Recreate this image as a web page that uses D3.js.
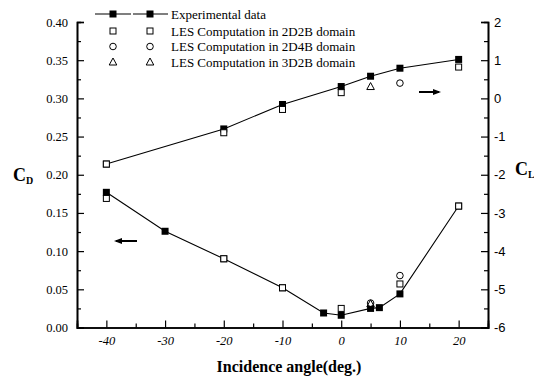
<!DOCTYPE html>
<html><head><meta charset="utf-8">
<script src="https://cdn.jsdelivr.net/npm/d3@7/dist/d3.min.js"></script>
<style>body{margin:0;background:#fff}svg{display:block}</style>
</head><body><svg id="c" width="534" height="378"></svg>
<script>
// Drag coefficient (left axis)
const expAngles = [-40, -30, -20, -10, -3, 0, 5, 6.5, 10, 20];
const expCD = [0.177, 0.126, 0.090, 0.052, 0.019, 0.016, 0.025, 0.026, 0.044, 0.159];
const les2d2bCDAngles = [-40, -20, -10, 0, 10, 20];
const les2d2bCD = [0.169, 0.090, 0.052, 0.025, 0.057, 0.159];
const les2d4bCDAngles = [5, 10];
const les2d4bCD = [0.032, 0.068];
const les3d2bCDAngles = [5];
const les3d2bCD = [0.031];
// Lift coefficient (right axis)
const expCLAngles = [-40, -20, -10, 0, 5, 10, 20];
const expCL = [-1.72, -0.80, -0.16, 0.31, 0.58, 0.79, 1.02];
const les2d2bCLAngles = [-40, -20, -10, 0, 20];
const les2d2bCL = [-1.72, -0.90, -0.29, 0.15, 0.82];
const les2d4bCLAngles = [10];
const les2d4bCL = [0.40];
const les3d2bCLAngles = [5];
const les3d2bCL = [0.31];
const xTicks = [-40, -30, -20, -10, 0, 10, 20];
const cdTicks = [0, 0.05, 0.10, 0.15, 0.20, 0.25, 0.30, 0.35, 0.40];
const clTicks = [-6, -5, -4, -3, -2, -1, 0, 1, 2];
const legendLabels = ["Experimental data", "LES Computation in 2D2B domain", "LES Computation in 2D4B domain", "LES Computation in 3D2B domain"];

const svg = d3.select("#c");
const L = 77, R = 488, T = 22, B = 327.5;
const x = d3.scaleLinear().domain([-45, 25]).range([L, R]);
const yD = d3.scaleLinear().domain([0, 0.40]).range([B, T]);
const yL = d3.scaleLinear().domain([-6, 2]).range([B, T]);
const serif = "'Liberation Serif','Times New Roman',serif";
const sans = "'Liberation Sans',Arial,sans-serif";
const intFmt = d => String(Math.round(d));

// axes
const gx = svg.append("g").attr("transform", `translate(0,${B})`)
  .call(d3.axisBottom(x).tickValues(xTicks).tickSize(-7).tickPadding(9).tickFormat(intFmt));
svg.append("g").attr("transform", `translate(0,${B})`)
  .call(d3.axisBottom(x).tickValues(d3.range(-35, 25, 10)).tickSize(-4).tickFormat(""));
gx.selectAll("text").attr("font-family", serif).attr("font-style", "italic").attr("font-size", 12.5);

const gl = svg.append("g").attr("transform", `translate(${L},0)`)
  .call(d3.axisLeft(yD).tickValues(cdTicks).tickSize(-7).tickPadding(9).tickFormat(d => d.toFixed(2)));
svg.append("g").attr("transform", `translate(${L},0)`)
  .call(d3.axisLeft(yD).tickValues(d3.range(0.025, 0.4, 0.05)).tickSize(-4).tickFormat(""));
gl.selectAll("text").attr("font-family", serif).attr("font-size", 12.5);

const gr = svg.append("g").attr("transform", `translate(${R},0)`)
  .call(d3.axisRight(yL).tickValues(clTicks).tickSize(-7).tickPadding(6).tickFormat(intFmt));
svg.append("g").attr("transform", `translate(${R},0)`)
  .call(d3.axisRight(yL).tickValues(d3.range(-5.5, 2, 1)).tickSize(-4).tickFormat(""));
gr.selectAll("text").attr("font-family", sans).attr("font-size", 13);

svg.selectAll(".domain").attr("stroke", "#000").attr("stroke-width", 1.6);
svg.selectAll(".tick line").attr("stroke", "#000").attr("stroke-width", 1.2);
svg.selectAll(".tick text").attr("fill", "#000");

// lines
const lineD = d3.line().x(d => x(d[0])).y(d => yD(d[1]));
const lineL = d3.line().x(d => x(d[0])).y(d => yL(d[1]));
svg.append("path").attr("d", lineD(d3.zip(expAngles, expCD))).attr("fill", "none").attr("stroke", "#000").attr("stroke-width", 1.1);
svg.append("path").attr("d", lineL(d3.zip(expCLAngles, expCL))).attr("fill", "none").attr("stroke", "#000").attr("stroke-width", 1.1);

function filledSq(g, px, py) {
  g.append("rect").attr("x", px - 3.5).attr("y", py - 3.5).attr("width", 7).attr("height", 7).attr("fill", "#000");
}
function openMark(g, type, px, py) {
  if (type === "sq") g.append("rect").attr("x", px - 3).attr("y", py - 3).attr("width", 6).attr("height", 6)
    .attr("fill", "#fff").attr("stroke", "#000").attr("stroke-width", 1);
  else if (type === "ci") g.append("circle").attr("cx", px).attr("cy", py).attr("r", 3.3)
    .attr("fill", "#fff").attr("stroke", "#000").attr("stroke-width", 1);
  else g.append("path").attr("d", `M${px},${py - 4}L${px + 3.8},${py + 3}L${px - 3.8},${py + 3}Z`)
    .attr("fill", "none").attr("stroke", "#000").attr("stroke-width", 1);
}
const gm = svg.append("g");
expAngles.forEach((a, i) => filledSq(gm, x(a), yD(expCD[i])));
expCLAngles.forEach((a, i) => filledSq(gm, x(a), yL(expCL[i])));
les2d2bCDAngles.forEach((a, i) => openMark(gm, "sq", x(a), yD(les2d2bCD[i])));
les2d2bCLAngles.forEach((a, i) => openMark(gm, "sq", x(a), yL(les2d2bCL[i])));
les2d4bCDAngles.forEach((a, i) => openMark(gm, "ci", x(a), yD(les2d4bCD[i])));
les2d4bCLAngles.forEach((a, i) => openMark(gm, "ci", x(a), yL(les2d4bCL[i])));
les3d2bCDAngles.forEach((a, i) => openMark(gm, "tr", x(a), yD(les3d2bCD[i])));
les3d2bCLAngles.forEach((a, i) => openMark(gm, "tr", x(a), yL(les3d2bCL[i])));

// legend
const lg = svg.append("g");
const rowsY = [14, 31, 46.5, 62];
lg.append("line").attr("x1", 95).attr("x2", 131).attr("y1", rowsY[0]).attr("y2", rowsY[0]).attr("stroke", "#000").attr("stroke-width", 1.1);
lg.append("line").attr("x1", 133).attr("x2", 168).attr("y1", rowsY[0]).attr("y2", rowsY[0]).attr("stroke", "#000").attr("stroke-width", 1.1);
filledSq(lg, 113, rowsY[0]); filledSq(lg, 150, rowsY[0]);
["sq", "ci", "tr"].forEach((t, i) => { openMark(lg, t, 113, rowsY[i + 1]); openMark(lg, t, 150, rowsY[i + 1]); });
legendLabels.forEach((t, i) => lg.append("text").attr("x", 171).attr("y", rowsY[i] + 4.5)
  .attr("font-family", serif).attr("font-size", 13).text(t));

// axis labels
svg.append("text").attr("x", 289).attr("y", 372).attr("text-anchor", "middle")
  .attr("font-family", serif).attr("font-weight", "bold").attr("font-size", 16).text("Incidence angle(deg.)");
const cd = svg.append("text").attr("x", 13).attr("y", 181).attr("font-family", serif).attr("font-weight", "bold").attr("font-size", 18);
cd.append("tspan").text("C");
cd.append("tspan").attr("font-size", 10).attr("dy", 3).text("D");
const cl = svg.append("text").attr("x", 515).attr("y", 175).attr("font-family", serif).attr("font-weight", "bold").attr("font-size", 18);
cl.append("tspan").text("C");
cl.append("tspan").attr("font-size", 10).attr("dy", 3).text("L");

// arrows
function arrow(x1, x2, yy) {
  svg.append("line").attr("x1", x1).attr("x2", x2).attr("y1", yy).attr("y2", yy).attr("stroke", "#000").attr("stroke-width", 2);
  const dir = Math.sign(x2 - x1);
  svg.append("path").attr("d", `M${x2 + dir * 2},${yy}L${x2 - dir * 6},${yy - 3}L${x2 - dir * 6},${yy + 3}Z`).attr("fill", "#000");
}
arrow(137, 116, 241);
arrow(419, 439, 92);
</script></body></html>
